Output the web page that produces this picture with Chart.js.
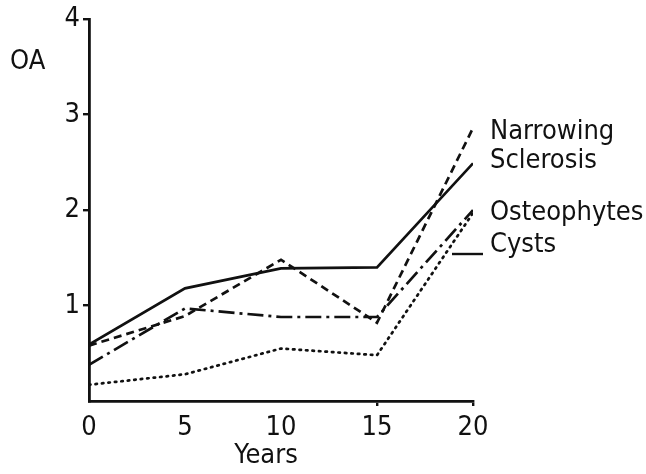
<!DOCTYPE html>
<html><head><meta charset="utf-8">
<script src="https://cdn.jsdelivr.net/npm/chart.js@4/dist/chart.umd.min.js"></script>
<style>html,body{margin:0;padding:0;background:#fff}#w{width:646px;height:474px}</style>
</head><body><div id="w"><canvas id="c" width="646" height="474"></canvas></div>
<script>
const years = [0, 5, 10, 15, 20];
const narrowing = [0.58, 0.89, 1.48, 0.82, 2.86];
const sclerosis = [0.59, 1.18, 1.39, 1.40, 2.49];
const osteophytes = [0.38, 0.97, 0.88, 0.88, 2.00];
const cysts = [0.17, 0.28, 0.55, 0.48, 1.97];
const yTicks = [1, 2, 3, 4];
const xTicks = [0, 5, 10, 15, 20];
const seriesNames = ['Narrowing', 'Sclerosis', 'Osteophytes', 'Cysts'];

const FONT = '"Liberation Sans Narrow", "DejaVu Sans Condensed", sans-serif';
const INK = '#111';
const pts = arr => arr.map((v, i) => ({x: years[i], y: v}));

const labelPlugin = {
  id: 'labels',
  afterDraw(chart) {
    const ctx = chart.ctx;
    ctx.save();
    ctx.fillStyle = INK;
    ctx.font = '27px ' + FONT;
    ctx.textBaseline = 'middle';
    ctx.textAlign = 'left';
    ctx.fillText('OA', 10, 62);
    ctx.textAlign = 'center';
    ctx.fillText('Years', 266, 456);
    ctx.textAlign = 'left';
    const xs = chart.scales.x, ys = chart.scales.y;
    const xr = xs.getPixelForValue(20);
    ctx.fillText(seriesNames[0], xr + 17, ys.getPixelForValue(2.82));
    ctx.fillText(seriesNames[1], xr + 17, ys.getPixelForValue(2.51));
    ctx.fillText(seriesNames[2], xr + 17, ys.getPixelForValue(1.97));
    ctx.fillText(seriesNames[3], xr + 17, ys.getPixelForValue(1.63));
    ctx.strokeStyle = INK;
    ctx.lineWidth = 2.4;
    ctx.beginPath();
    const yl = ys.getPixelForValue(1.54);
    ctx.moveTo(xr - 21, yl);
    ctx.lineTo(xr + 10, yl);
    ctx.stroke();
    ctx.restore();
  }
};

new Chart(document.getElementById('c'), {
  type: 'line',
  data: {
    datasets: [
      {label: seriesNames[0], data: pts(narrowing), borderDash: [8, 5]},
      {label: seriesNames[1], data: pts(sclerosis), borderDash: []},
      {label: seriesNames[2], data: pts(osteophytes), borderDash: [16, 5, 3, 5]},
      {label: seriesNames[3], data: pts(cysts), borderDash: [1.5, 5], borderCapStyle: 'round'}
    ].map(d => Object.assign({borderColor: INK, borderWidth: 2.7, pointRadius: 0, tension: 0, fill: false}, d))
  },
  options: {
    responsive: false,
    animation: false,
    events: [],
    layout: {padding: {left: 0, top: 19, right: 173, bottom: 0}},
    plugins: {legend: {display: false}, tooltip: {enabled: false}},
    scales: {
      x: {
        type: 'linear', min: 0, max: 20,
        afterFit(s) { s.height = 73; },
        afterBuildTicks(s) { s.ticks = xTicks.map(v => ({value: v})); },
        border: {display: true, color: INK, width: 2.8},
        grid: {drawOnChartArea: false, drawTicks: true, tickLength: 5,
               color: c => (c.tick && c.tick.value >= 15) ? INK : 'rgba(0,0,0,0)', lineWidth: 2.4},
        ticks: {color: INK, font: {family: FONT, size: 27}, padding: 6, maxRotation: 0}
      },
      y: {
        min: 0, max: 4,
        afterFit(s) { s.width = 89; },
        afterBuildTicks(s) { s.ticks = yTicks.map(v => ({value: v})); },
        border: {display: true, color: INK, width: 2.8},
        grid: {drawOnChartArea: false, drawTicks: true, tickLength: 6, color: INK, lineWidth: 2.4},
        ticks: {color: INK, font: {family: FONT, size: 27}, padding: 3}
      }
    }
  },
  plugins: [labelPlugin]
});
</script>
</body></html>
